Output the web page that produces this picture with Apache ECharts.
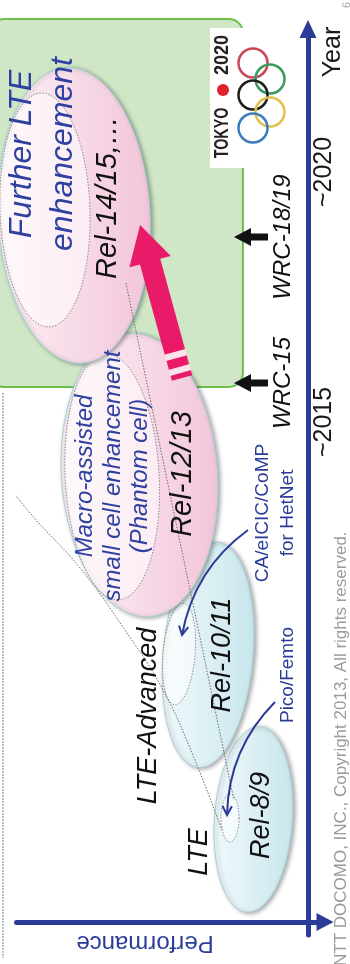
<!DOCTYPE html>
<html>
<head>
<meta charset="utf-8">
<title>LTE / LTE-Advanced evolution</title>
<script src="https://cdn.jsdelivr.net/npm/echarts@6.0.0/dist/echarts.min.js"></script>
<style>
  html, body { margin: 0; padding: 0; background: #ffffff; }
  #main { width: 350px; height: 964px; }
</style>
</head>
<body>
<div id="main"></div>
<script>
  // ---- data ----
  var BASE_YEAR = 2005;   // year at the origin of the axes

  var releases  = ['Rel-8/9', 'Rel-10/11', 'Rel-12/13', 'Rel-14/15,…'];
  var relYear   = [2007.05, 2010.34, 2013.94, 2019.13];
  var relPerf   = [1.82, 3.33, 5.62, 7.80];
  // dotted "focus" area inside each release
  var focusYear = [2007.08, 2010.36, 2013.90, 2019.24];
  var focusPerf = [2.60, 4.30, 6.53, 8.77];

  var yearTicks = [2015, 2020];

  var wrcNames  = ['WRC-15', 'WRC-18/19'];
  var wrcYear   = [2015.78, 2018.70];

  // green period of "Further LTE enhancement"
  var furtherYears = [2015.70, 2023.06];
  var furtherPerf  = [2.17, 10.60];

  // big pink arrow (from, to)
  var evoArrow = [[4.20, 2015.88], [5.60, 2018.94]];

  // blue HetNet arrows (from, to)
  var hetNetArrows = [
    [[2.00, 2012.84], [4.20, 2010.74]],
    [[1.10, 2009.40], [2.70, 2007.14]]
  ];

  // dotted envelope lines
  var envelopeLeft = [[10.60, 2014.20], [9.27, 2013.18], [7.60, 2012.08], [6.17, 2010.90],
                      [4.83, 2009.64], [3.77, 2008.24], [2.87, 2006.84]];
  var envelopeRight = [[6.07, 2017.78], [2.47, 2007.44]];

  // ---- styles ----
  var BLUE = '#2b3b98';
  var FONT = '"Liberation Sans", Arial, sans-serif';
  var R90 = Math.PI / 2;

  var relShape   = [[39, 93, 4], [45, 113, 5], [78, 142, -4], [76, 148, -3]];   // rx, ry, tilt
  var focusShape = [[9, 24, 0], [16, 51, 5], [47, 123, -3], [45, 117, -2]];
  var relFill = [['#f1f9fb', '#c7e6ec'], ['#f1f9fb', '#c7e6ec'],
                 ['#fdf1f6', '#f2c5d9'], ['#fdf1f6', '#f2c5d9']];
  var relLabelOffset = [[8, -4], [14, 0], [43, -1], [34, -18]];
  var relLabelSize = [27, 27, 29, 29];

  function y0(v) { return v - BASE_YEAR; }

  function ellipsePoints(c, rx, ry, deg) {
    var th = deg * Math.PI / 180, pts = [];
    for (var i = 0; i < 90; i++) {
      var t = i / 90 * Math.PI * 2;
      var u = rx * Math.cos(t), v = ry * Math.sin(t);
      pts.push([c[0] + u * Math.cos(th) - v * Math.sin(th),
                c[1] + u * Math.sin(th) + v * Math.cos(th)]);
    }
    return pts;
  }

  function gradient(cols) {
    return new echarts.graphic.LinearGradient(0, 0, 1, 0, [
      { offset: 0, color: cols[0] }, { offset: 1, color: cols[1] }
    ]);
  }

  var chart = echarts.init(document.getElementById('main'));

  var option = {
    animation: false,
    backgroundColor: '#ffffff',
    grid: { left: 16.5, right: 25, top: 29, bottom: 29, outerBoundsMode: 'none' },
    xAxis: {
      type: 'value', inverse: true, min: -0.567, max: 9.72,
      axisLine: {
        onZero: true, symbol: ['none', 'triangle'], symbolSize: [18, 17],
        lineStyle: { color: BLUE, width: 5 }
      },
      axisTick: { show: false }, axisLabel: { show: false }, splitLine: { show: false }
    },
    yAxis: {
      type: 'value', min: -0.26, max: 17.86, position: 'right',
      axisLine: {
        onZero: true, symbol: ['none', 'triangle'], symbolSize: [17, 18],
        lineStyle: { color: BLUE, width: 5 }
      },
      axisTick: { show: false }, splitLine: { show: false },
      axisLabel: {
        customValues: yearTicks.map(y0),
        formatter: function (v) { return '~' + Math.round(v + BASE_YEAR); },
        rotate: 90, margin: -13, color: '#1a1a1a', fontSize: 25, fontFamily: FONT
      }
    },
    series: [
      {
        // green period box
        type: 'custom', z: 1, silent: true,
        data: [[furtherPerf[1], y0(furtherYears[1]), furtherPerf[0], y0(furtherYears[0])]],
        renderItem: function (params, api) {
          var a = api.coord([api.value(0), api.value(1)]);
          var b = api.coord([api.value(2), api.value(3)]);
          return {
            type: 'rect',
            shape: { x: a[0], y: a[1], width: b[0] - a[0], height: b[1] - a[1], r: 14 },
            style: { fill: '#d0e7c7', stroke: '#6dbf4b', lineWidth: 2 }
          };
        }
      },
      {
        // release ellipses with their focus areas
        type: 'custom', z: 2, silent: true,
        data: relPerf.map(function (p, i) {
          return [p, y0(relYear[i]), focusPerf[i], y0(focusYear[i])];
        }),
        renderItem: function (params, api) {
          var i = params.dataIndex;
          var c = api.coord([api.value(0), api.value(1)]);
          var f = api.coord([api.value(2), api.value(3)]);
          var s = relShape[i], fs = focusShape[i];
          return {
            type: 'group',
            children: [
              {
                type: 'polygon', shape: { points: ellipsePoints(c, s[0], s[1], s[2]) },
                style: {
                  fill: gradient(relFill[i]), stroke: '#a6d1d8', lineWidth: 1,
                  shadowBlur: 4, shadowOffsetX: 2, shadowOffsetY: 1, shadowColor: 'rgba(0,0,0,0.35)'
                }
              },
              {
                type: 'polygon', shape: { points: ellipsePoints(f, fs[0], fs[1], fs[2]) },
                style: { fill: 'rgba(255,255,255,0.55)', stroke: '#8a8a8a', lineWidth: 1, lineDash: [1.5, 1.5] }
              }
            ]
          };
        }
      },
      {
        type: 'line', z: 3, silent: true, clip: false, smooth: 0.4,
        symbol: 'none', showSymbol: false,
        data: envelopeLeft.map(function (p) { return [p[0], y0(p[1])]; }),
        lineStyle: { color: '#6a6a6a', width: 1, type: [1.5, 1.5] }
      },
      {
        type: 'line', z: 3, silent: true, clip: false,
        symbol: 'none', showSymbol: false,
        data: envelopeRight.map(function (p) { return [p[0], y0(p[1])]; }),
        lineStyle: { color: '#6a6a6a', width: 1, type: [1.5, 1.5] }
      },
      {
        // big pink arrow
        type: 'custom', z: 4, silent: true,
        data: [[evoArrow[0][0], y0(evoArrow[0][1]), evoArrow[1][0], y0(evoArrow[1][1])]],
        renderItem: function (params, api) {
          var a = api.coord([api.value(0), api.value(1)]);
          var b = api.coord([api.value(2), api.value(3)]);
          var dx = b[0] - a[0], dy = b[1] - a[1], len = Math.sqrt(dx * dx + dy * dy);
          var ux = dx / len, uy = dy / len, nx = -uy, ny = ux;
          var w = 10.5, hw = 21.5, hl = 38;
          function P(t, s) { return [a[0] + ux * t + nx * s, a[1] + uy * t + ny * s]; }
          var base = len - hl;
          var stripes = [[5.2, 11.4], [20.7, 27]].map(function (st) {
            return {
              type: 'polygon',
              shape: { points: [P(st[0], -w - 0.5), P(st[1], -w - 0.5), P(st[1], w + 0.5), P(st[0], w + 0.5)] },
              style: { fill: '#fbe3ec' }
            };
          });
          return {
            type: 'group',
            children: [{
              type: 'polygon',
              shape: { points: [P(0, -w), P(base, -w), P(base, -hw), b, P(base, hw), P(base, w), P(0, w)] },
              style: { fill: '#e91a68' }
            }].concat(stripes)
          };
        }
      },
      {
        // blue curved HetNet arrows
        type: 'custom', z: 5, silent: true,
        data: hetNetArrows.map(function (h) {
          return [h[0][0], y0(h[0][1]), h[1][0], y0(h[1][1])];
        }),
        renderItem: function (params, api) {
          var a = api.coord([api.value(0), api.value(1)]);
          var b = api.coord([api.value(2), api.value(3)]);
          var c = -0.2;
          var cpx = (a[0] + b[0]) / 2 - (a[1] - b[1]) * c;
          var cpy = (a[1] + b[1]) / 2 - (b[0] - a[0]) * c;
          var tx = b[0] - cpx, ty = b[1] - cpy, tl = Math.sqrt(tx * tx + ty * ty);
          tx /= tl; ty /= tl;
          var ang = 28 * Math.PI / 180, hs = 10;
          function wing(sg) {
            var cs = Math.cos(sg * ang), sn = Math.sin(sg * ang);
            return [b[0] - hs * (tx * cs - ty * sn), b[1] - hs * (tx * sn + ty * cs)];
          }
          return {
            type: 'group',
            children: [
              {
                type: 'bezierCurve',
                shape: { x1: a[0], y1: a[1], x2: b[0], y2: b[1], cpx1: cpx, cpy1: cpy },
                style: { stroke: BLUE, lineWidth: 2, fill: null }
              },
              {
                type: 'polyline', shape: { points: [wing(1), b, wing(-1)] },
                style: { stroke: BLUE, lineWidth: 2, fill: null }
              }
            ]
          };
        }
      },
      {
        // WRC markers
        type: 'custom', z: 5, silent: true,
        data: wrcYear.map(function (y) { return [0, y0(y)]; }),
        renderItem: function (params, api) {
          var p = api.coord([api.value(0), api.value(1)]);
          var x = p[0], y = p[1];
          return {
            type: 'group',
            children: [
              {
                type: 'polygon',
                shape: { points: [[x - 74, y], [x - 57, y - 9], [x - 57, y - 3.5], [x - 40, y - 3.5],
                                  [x - 40, y + 3.5], [x - 57, y + 3.5], [x - 57, y + 9]] },
                style: { fill: '#111111' }
              },
              {
                type: 'text', x: x - 25, y: y, rotation: R90,
                style: {
                  text: wrcNames[params.dataIndex], fill: '#111111', align: 'center', verticalAlign: 'middle',
                  font: 'italic 24px ' + FONT
                }
              }
            ]
          };
        }
      },
      {
        // release labels
        type: 'custom', z: 6, silent: true,
        data: relPerf.map(function (p, i) { return [p, y0(relYear[i])]; }),
        renderItem: function (params, api) {
          var i = params.dataIndex;
          var c = api.coord([api.value(0), api.value(1)]);
          return {
            type: 'text', x: c[0] + relLabelOffset[i][0], y: c[1] + relLabelOffset[i][1], rotation: R90,
            style: {
              text: releases[i], fill: '#111111', align: 'center', verticalAlign: 'middle',
              font: 'italic ' + relLabelSize[i] + 'px ' + FONT
            }
          };
        }
      }
    ],
    graphic: [
      // left frame line
      { type: 'line', z: 0, shape: { x1: 3, y1: 393, x2: 3, y2: 958 },
        style: { stroke: '#b3c6cc', lineWidth: 2, lineDash: [2, 1] } },
      // Tokyo 2020 logo
      { type: 'rect', z: 50, shape: { x: 210, y: 28, width: 80, height: 140 }, style: { fill: '#ffffff' } },
      { type: 'circle', z: 51, shape: { cx: 253, cy: 63, r: 14.5 }, style: { fill: null, stroke: '#c9475b', lineWidth: 2.5 } },
      { type: 'circle', z: 51, shape: { cx: 270, cy: 79, r: 14.5 }, style: { fill: null, stroke: '#3b9a5e', lineWidth: 2.5 } },
      { type: 'circle', z: 51, shape: { cx: 253, cy: 95, r: 14.5 }, style: { fill: null, stroke: '#1e1e1e', lineWidth: 2.5 } },
      { type: 'circle', z: 51, shape: { cx: 270, cy: 112, r: 14.5 }, style: { fill: null, stroke: '#e2c04e', lineWidth: 2.5 } },
      { type: 'circle', z: 51, shape: { cx: 253, cy: 128, r: 14.5 }, style: { fill: null, stroke: '#3d7bbb', lineWidth: 2.5 } },
      { type: 'text', z: 52, x: 222.5, y: 133, rotation: R90, scaleX: 0.68,
        style: { text: 'TOKYO', fill: '#222222', align: 'center', verticalAlign: 'middle', font: 'bold 21px ' + FONT } },
      { type: 'circle', z: 52, shape: { cx: 223, cy: 90, r: 6 }, style: { fill: '#e0202b' } },
      { type: 'text', z: 52, x: 222.5, y: 55, rotation: R90, scaleX: 0.86,
        style: { text: '2020', fill: '#222222', align: 'center', verticalAlign: 'middle', font: 'bold 21px ' + FONT } },
      // annotations
      { type: 'text', z: 60, x: 43, y: 154, rotation: R90,
        style: { text: 'Further LTE\nenhancement', fill: '#2e41a0', align: 'center', verticalAlign: 'middle',
                 font: 'italic 32px ' + FONT, lineHeight: 41 } },
      { type: 'text', z: 60, x: 113, y: 476, rotation: R90,
        style: { text: 'Macro-assisted\nsmall cell enhancement\n(Phantom cell)', fill: '#2e41a0', align: 'center',
                 verticalAlign: 'middle', font: 'italic 24px ' + FONT, lineHeight: 27.5 } },
      { type: 'text', z: 60, x: 275.5, y: 513, rotation: R90,
        style: { text: 'CA/eICIC/CoMP\nfor HetNet', fill: BLUE, align: 'center', verticalAlign: 'middle',
                 font: '19px ' + FONT, lineHeight: 25 } },
      { type: 'text', z: 60, x: 288, y: 675, rotation: R90,
        style: { text: 'Pico/Femto', fill: BLUE, align: 'center', verticalAlign: 'middle', font: '19px ' + FONT } },
      { type: 'text', z: 60, x: 199, y: 852, rotation: R90,
        style: { text: 'LTE', fill: '#111111', align: 'center', verticalAlign: 'middle', font: 'italic 27px ' + FONT } },
      { type: 'text', z: 60, x: 148, y: 716, rotation: R90,
        style: { text: 'LTE-Advanced', fill: '#111111', align: 'center', verticalAlign: 'middle', font: 'italic 27px ' + FONT } },
      { type: 'text', z: 60, x: 333, y: 52, rotation: R90,
        style: { text: 'Year', fill: '#1a1a1a', align: 'center', verticalAlign: 'middle', font: '25px ' + FONT } },
      { type: 'text', z: 60, x: 145, y: 943, rotation: Math.PI,
        style: { text: 'Performance', fill: BLUE, align: 'center', verticalAlign: 'middle', font: '24px ' + FONT } },
      { type: 'text', z: 60, x: 341, y: 966, rotation: R90,
        style: { text: 'NTT DOCOMO, INC., Copyright 2013, All rights reserved.', fill: '#9b9b9b',
                 align: 'left', verticalAlign: 'middle', font: '17px ' + FONT } },
      { type: 'text', z: 60, x: 347, y: 5, rotation: R90,
        style: { text: '6', fill: '#aaaaaa', align: 'center', verticalAlign: 'middle', font: '11px ' + FONT } }
    ]
  };

  chart.setOption(option);
</script>
</body>
</html>
